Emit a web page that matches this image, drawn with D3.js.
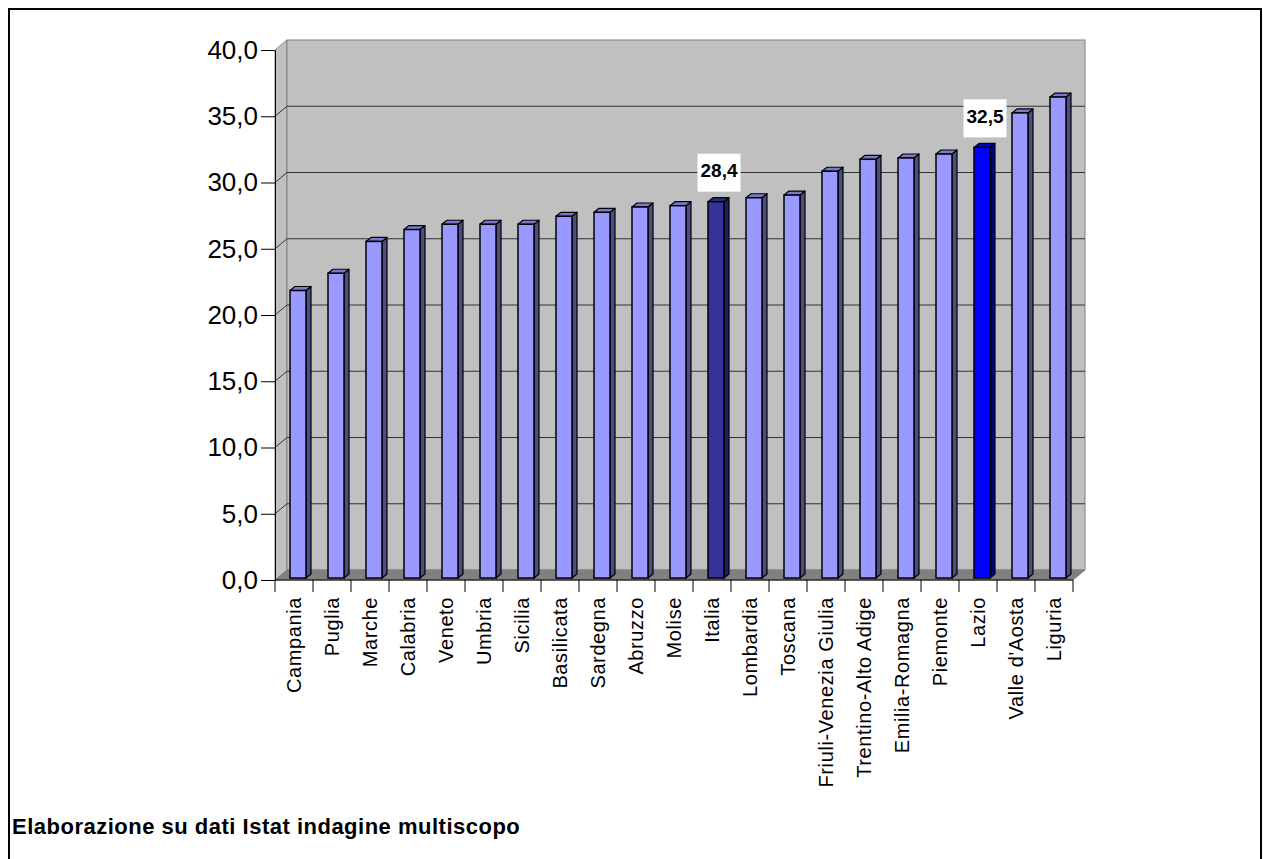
<!DOCTYPE html>
<html>
<head>
<meta charset="utf-8">
<script src="https://cdn.jsdelivr.net/npm/d3@7"></script>
<style>
body { margin: 0; background: #fff; }
svg { display: block; font-family: "Liberation Sans", Arial, sans-serif; }
</style>
</head>
<body>
<svg></svg>
<script>
// regioni ordinate per valore
var categories = ["Campania", "Puglia", "Marche", "Calabria", "Veneto", "Umbria", "Sicilia",
  "Basilicata", "Sardegna", "Abruzzo", "Molise", "Italia", "Lombardia", "Toscana",
  "Friuli-Venezia Giulia", "Trentino-Alto Adige", "Emilia-Romagna", "Piemonte", "Lazio",
  "Valle d'Aosta", "Liguria"];
var values = [21.7, 23.0, 25.4, 26.3, 26.7, 26.7, 26.7, 27.3, 27.6, 28.0, 28.1, 28.4, 28.7,
  28.9, 30.7, 31.6, 31.7, 32.0, 32.5, 35.1, 36.3];
var yTicks = [0, 5, 10, 15, 20, 25, 30, 35, 40];
var labelled = ["Italia", "Lazio"];
var source = "Elaborazione su dati Istat indagine multiscopo";

var svgWidth = 1263, svgHeight = 859;
var depthX = 12, depthY = -10;   // profondita' del pavimento 3D

var svg = d3.select('svg')
  .attr('width', svgWidth)
  .attr('height', svgHeight);

// cornice esterna
svg.append('rect')
  .attr('x', 9).attr('y', 9)
  .attr('width', 1252).attr('height', 900)
  .attr('fill', 'none')
  .attr('stroke', '#000')
  .attr('stroke-width', 2);

var xScale = d3.scaleBand()
  .domain(categories)
  .range([275, 1073]);

var yScale = d3.scaleLinear()
  .domain([0, 40])
  .range([580, 50]);

var x0 = xScale.range()[0], x1 = xScale.range()[1];
var yTop = yScale(40), yBase = yScale(0);

// parete laterale
svg.append('polygon')
  .attr('points', [[x0, yTop], [x0 + depthX, yTop + depthY], [x0 + depthX, yBase + depthY], [x0, yBase]].join(' '))
  .attr('fill', '#c0c0c0')
  .attr('stroke', '#808080');

// parete di fondo
svg.append('rect')
  .attr('x', x0 + depthX).attr('y', yTop + depthY)
  .attr('width', x1 - x0).attr('height', yBase - yTop)
  .attr('fill', '#c0c0c0')
  .attr('stroke', '#808080');

// pavimento
svg.append('polygon')
  .attr('points', [[x0, yBase], [x0 + depthX, yBase + depthY], [x1 + depthX, yBase + depthY], [x1, yBase]].join(' '))
  .attr('fill', '#808080')
  .attr('stroke', '#808080');

// griglia
var grid = svg.append('g');
yTicks.filter(function(d) { return d > 0 && d < 40; }).forEach(function(d) {
  var y = yScale(d);
  grid.append('line')
    .attr('x1', x0).attr('y1', y)
    .attr('x2', x0 + depthX).attr('y2', y + depthY)
    .attr('stroke', '#333');
  grid.append('line')
    .attr('x1', x0 + depthX).attr('y1', y + depthY)
    .attr('x2', x1 + depthX).attr('y2', y + depthY)
    .attr('stroke', '#333');
});

// asse y
var itFormat = d3.formatLocale({ decimal: ',', thousands: '.', grouping: [3], currency: ['', '€'] }).format('.1f');

var y_axis = d3.axisLeft()
  .scale(yScale)
  .tickValues(yTicks)
  .tickFormat(itFormat)
  .tickSize(14)
  .tickSizeOuter(0)
  .tickPadding(3);

var yAxisG = svg.append('g')
  .attr('transform', 'translate(' + x0 + ',0)')
  .call(y_axis);
yAxisG.select('.domain').attr('stroke', '#000');
yAxisG.selectAll('.tick line').attr('stroke', '#000');
yAxisG.selectAll('.tick text')
  .attr('font-family', '"Liberation Sans", Arial, sans-serif')
  .attr('font-size', 26)
  .attr('fill', '#000');

// asse x
var xAxisG = svg.append('g');
xAxisG.append('line')
  .attr('x1', x0).attr('y1', yBase)
  .attr('x2', x1).attr('y2', yBase)
  .attr('stroke', '#000');
var bounds = categories.map(function(c) { return xScale(c); }).concat([x1]);
xAxisG.selectAll('line.tick')
  .data(bounds)
  .enter()
  .append('line')
  .attr('class', 'tick')
  .attr('x1', function(d) { return d; }).attr('x2', function(d) { return d; })
  .attr('y1', yBase).attr('y2', yBase + 12)
  .attr('stroke', '#000');

xAxisG.selectAll('text')
  .data(categories)
  .enter()
  .append('text')
  .attr('transform', function(d) {
    return 'translate(' + (xScale(d) + xScale.bandwidth() / 2) + ',' + (yBase + 17) + ') rotate(-90)';
  })
  .attr('text-anchor', 'end')
  .attr('dy', '0.35em')
  .attr('font-size', 20)
  .attr('letter-spacing', 0.6)
  .text(function(d) { return d; });

// barre 3D
var barW = 16, offX = 4, offY = -2, sideX = 5, sideY = -4;

function barColors(c) {
  if (c === 'Italia') return { face: '#333399', side: '#1f1f5c', top: '#2a2a80' };
  if (c === 'Lazio') return { face: '#0000ff', side: '#000080', top: '#0000cc' };
  return { face: '#9999ff', side: '#4d4d80', top: '#7a7acc' };
}

var bars = svg.append('g').selectAll('g')
  .data(categories.map(function(c, i) { return { cat: c, val: values[i] }; }))
  .enter()
  .append('g');

bars.each(function(d) {
  var g = d3.select(this);
  var col = barColors(d.cat);
  var bx = xScale(d.cat) + (xScale.bandwidth() - barW) / 2 + offX;
  var by = yScale(d.val) + offY;
  var bb = yScale(0) + offY;
  g.append('polygon')
    .attr('points', [[bx + barW, by], [bx + barW + sideX, by + sideY], [bx + barW + sideX, bb + sideY], [bx + barW, bb]].join(' '))
    .attr('fill', col.side)
    .attr('stroke', '#000')
    .attr('stroke-width', 1.2)
    .attr('stroke-linejoin', 'round');
  g.append('polygon')
    .attr('points', [[bx, by], [bx + sideX, by + sideY], [bx + barW + sideX, by + sideY], [bx + barW, by]].join(' '))
    .attr('fill', col.top)
    .attr('stroke', '#000')
    .attr('stroke-width', 1.2)
    .attr('stroke-linejoin', 'round');
  g.append('rect')
    .attr('x', bx).attr('y', by)
    .attr('width', barW).attr('height', bb - by)
    .attr('fill', col.face)
    .attr('stroke', '#000')
    .attr('stroke-width', 1.5);
});

// etichette dei valori
labelled.forEach(function(c) {
  var v = values[categories.indexOf(c)];
  var cx = xScale(c) + (xScale.bandwidth() - barW) / 2 + offX + barW / 2 + 3;
  var by = yScale(v) + offY;
  svg.append('rect')
    .attr('x', cx - 21.5).attr('y', by - 10 - 38)
    .attr('width', 43).attr('height', 38)
    .attr('fill', '#fff');
  svg.append('text')
    .attr('x', cx).attr('y', by - 10 - 21)
    .attr('dy', '0.35em')
    .attr('text-anchor', 'middle')
    .attr('font-size', 19)
    .attr('font-weight', 'bold')
    .text(itFormat(v));
});

// fonte
svg.append('text')
  .attr('x', 12).attr('y', 834)
  .attr('font-size', 22)
  .attr('font-weight', 'bold')
  .attr('letter-spacing', 0.5)
  .text(source);
</script>
</body>
</html>
